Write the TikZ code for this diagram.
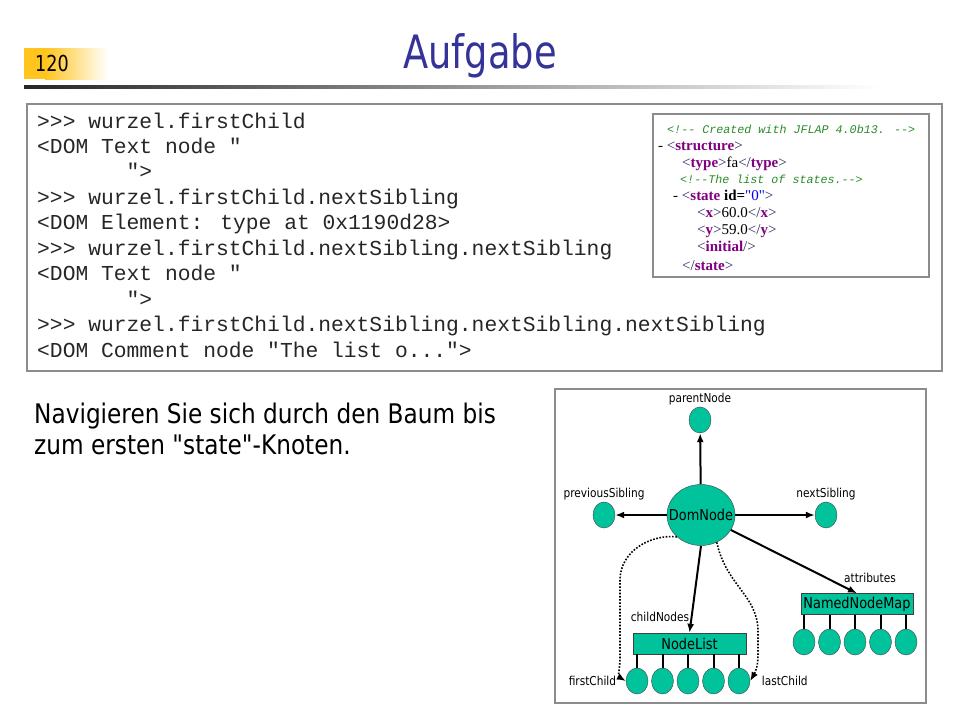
\documentclass[tikz,border=0pt]{standalone}
\usepackage{fontspec}
\setmainfont{DejaVu Sans}[FakeStretch=0.86,Ligatures=TeXOff]
\newfontfamily\titlefont{DejaVu Sans}[FakeStretch=0.8]
\newfontfamily\codefont{Liberation Mono}[Ligatures=TeXOff]
\newfontfamily\xmlfont{Liberation Serif}[Ligatures=TeXOff]
\usetikzlibrary{arrows.meta}
\usetikzlibrary{shapes.geometric}
\usetikzlibrary{positioning}

\definecolor{titleblue}{RGB}{51,51,153}
\definecolor{numyellow}{RGB}{255,196,30}
\definecolor{domgreen}{RGB}{0,194,155}
\definecolor{xtag}{RGB}{128,0,128}
\definecolor{xbrk}{RGB}{40,40,90}
\definecolor{xcom}{RGB}{40,140,40}

\newcommand\xo[1]{{\color{xbrk}<}{\color{xtag}\bfseries #1}{\color{xbrk}>}}
\newcommand\xc[1]{{\color{xbrk}</}{\color{xtag}\bfseries #1}{\color{xbrk}>}}
\newcommand\tdots{...}

\tikzset{
  frame/.style={draw=black!45, line width=1.2pt},
  codeline/.style={anchor=base west, inner sep=0pt, text=black!85,
    font=\codefont\fontsize{21.3}{25}\selectfont},
  xmlline/.style={anchor=base west, inner sep=0pt,
    font=\xmlfont\fontsize{15}{17}\selectfont},
  xmlcom/.style={xmlline, text=xcom,
    font=\codefont\itshape\fontsize{11.7}{14}\selectfont},
  bodytext/.style={anchor=base west, inner sep=0pt,
    font=\fontsize{27}{32}\selectfont},
  dnode/.style={ellipse, draw=black!75, fill=domgreen, inner sep=0pt,
    minimum width=22pt, minimum height=26pt},
  dbox/.style={rectangle, draw=black!75, fill=domgreen, inner sep=0pt,
    minimum height=21pt, font=\fontsize{15}{17}\selectfont},
  dlabel/.style={inner sep=1.5pt, font=\fontsize{12.3}{14}\selectfont},
  link/.style={line width=2pt, -{Latex[length=9pt,width=7pt]}},
  dotlink/.style={line width=1.6pt, dash pattern=on 1.6pt off 1.6pt,
    -{Latex[length=9pt,width=7pt]}},
  stem/.style={line width=2pt}
}

\begin{document}
\begin{tikzpicture}[x=1pt,y=-1pt]

  \useasboundingbox (0,0) rectangle (960,720);

  % header
  \fill[numyellow] (24,48) rectangle (45,79);
  \shade[left color=numyellow, right color=white] (45,48) rectangle (108,79);
  \node[anchor=base west, inner sep=0pt, font=\titlefont\fontsize{22}{26}\selectfont] (num) at (35,71) {120};
  \node[anchor=base, inner sep=0pt, text=titleblue, font=\titlefont\fontsize{46}{50}\selectfont] (title) at (480,68) {Aufgabe};
  \shade[left color=black!85, right color=white] (24,85) rectangle (880,88.5);

  % python session
  \draw[frame, fill=white] (27,104) rectangle (942,371);
  \foreach \txt [count=\i] in {
      {>>> wurzel.firstChild},
      {<DOM Text node "},
      {\phantom{0000000}">},
      {>>> wurzel.firstChild.nextSibling},
      {<DOM Element: type at 0x1190d28>},
      {>>> wurzel.firstChild.nextSibling.nextSibling},
      {<DOM Text node "},
      {\phantom{0000000}">},
      {>>> wurzel.firstChild.nextSibling.nextSibling.nextSibling},
      {<DOM Comment node "The list o\tdots">}}
    \node[codeline] (code\i) at (37,{128+25.45*(\i-1)}) {\txt};

  % xml snippet
  \draw[frame] (653,114) rectangle (929,277);
  \node[xmlcom] (x1) at (667,133) {<!-- Created with JFLAP 4.0b13. -->};
  \node[xmlline] (x2) at (658,150) {- \xo{structure}};
  \node[xmlline] (x3) at (682,167) {\xo{type}fa\xc{type}};
  \node[xmlcom] (x4) at (680,183) {<!--The list of states.-->};
  \node[xmlline] (x5) at (673,200) {- {\color{xbrk}<}{\color{xtag}\bfseries state} {\bfseries id=}{\color{blue}"0"}{\color{xbrk}>}};
  \node[xmlline] (x6) at (697,217) {\xo{x}60.0\xc{x}};
  \node[xmlline] (x7) at (697,234) {\xo{y}59.0\xc{y}};
  \node[xmlline] (x8) at (697,251) {{\color{xbrk}<}{\color{xtag}\bfseries initial}{\color{xbrk}/>}};
  \node[xmlline] (x9) at (682,270) {\xc{state}};

  % task
  \node[bodytext] (task1) at (34,423) {Navigieren Sie sich durch den Baum bis};
  \node[bodytext] (task2) at (34,454) {zum ersten "state"-Knoten.};

  % dom diagram
  \draw[frame] (555,389) rectangle (926,703);
  \node[dnode, minimum width=68pt, minimum height=61pt] (dom) at (701,515) {};
  \node[inner sep=0pt, font=\fontsize{15}{17}\selectfont] (domtxt) at (dom) {DomNode};
  \node[dnode] (par) at (700,420) {};
  \node[dnode] (prev) at (604,515) {};
  \node[dnode] (next) at (826,515) {};
  \node[dbox, minimum width=113pt] (nl) at (689.5,643.5) {NodeList};
  \node[dbox, minimum width=112pt] (nnm) at (857,604) {NamedNodeMap};
  \foreach \k in {1,...,5} {
    \node[dnode] (l\k) at ({637+25.5*(\k-1)},681) {};
    \node[dnode] (m\k) at ({804+25.5*(\k-1)},642) {};
    \draw[stem] (l\k.north |- nl.south) -- (l\k.north);
    \draw[stem] (m\k.north |- nnm.south) -- (m\k.north);
  }

  % links
  \draw[link] (dom) -- (par);
  \draw[link] (dom) -- (prev);
  \draw[link] (dom) -- (next);
  \draw[link] (dom.south) -- (nl.north);
  \draw[link] (dom) -- (nnm.north);
  \draw[dotlink] (dom.222) to[out=175,in=90] (620,580) -- (620,658) to[out=-90,in=150] (l1.west);
  \draw[dotlink] (dom.300) .. controls (726,585) and (757,595) .. (758,630) -- (758,655) to[out=-90,in=60] (l5.east);

  % labels
  \node[dlabel, above=0pt of par] (parlbl) {parentNode};
  \node[dlabel, above=0pt of prev] (prevlbl) {previousSibling};
  \node[dlabel, above=0pt of next] (nextlbl) {nextSibling};
  \node[dlabel] (cnlbl) at (660,617) {childNodes};
  \node[dlabel] (attlbl) at (870,578) {attributes};
  \node[dlabel, left=8pt of l1] (fclbl) {firstChild};
  \node[dlabel, right=10pt of l5] (lclbl) {lastChild};

\end{tikzpicture}
\end{document}
